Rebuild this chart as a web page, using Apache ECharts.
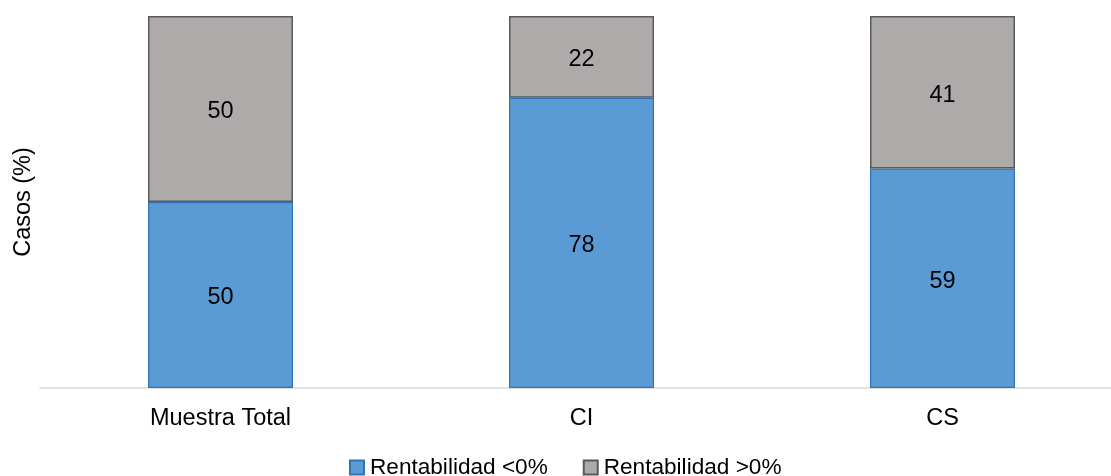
<!DOCTYPE html>
<html>
<head>
<meta charset="utf-8">
<script src="https://cdn.jsdelivr.net/npm/echarts@6/dist/echarts.min.js"></script>
<style>
  html, body { margin: 0; padding: 0; background: #ffffff; }
  #chart { width: 1111px; height: 476px; }
</style>
</head>
<body>
<div id="chart"></div>
<script>
// Categorías y porcentajes de casos por rentabilidad
const categories = ['Muestra Total', 'CI', 'CS'];
const rentNegativa = [50, 78, 59];
const rentPositiva = [50, 22, 41];
const seriesNames = ['Rentabilidad <0%', 'Rentabilidad >0%'];

const FONT = 'Arial, "Liberation Sans", sans-serif';

const chart = echarts.init(document.getElementById('chart'), null, { renderer: 'canvas' });

const labelStyle = {
  show: true,
  position: 'inside',
  offset: [0, 3],
  color: '#000000',
  fontFamily: FONT,
  fontSize: 23.5
};

chart.setOption({
  backgroundColor: '#ffffff',
  animation: false,
  // the plot runs a little past the right edge of the canvas
  grid: { left: 40, width: 1083, top: 16, bottom: 88, outerBoundsMode: 'none', containLabel: false },
  legend: {
    data: seriesNames,
    bottom: -8,
    left: 344,
    itemWidth: 14,
    itemHeight: 14,
    itemGap: 35,
    icon: 'rect',
    textStyle: { fontFamily: FONT, fontSize: 22.6, color: '#000000', padding: [0, 0, 0, 1] }
  },
  xAxis: {
    type: 'category',
    data: categories,
    axisLine: { show: true, lineStyle: { color: '#d9d9d9', width: 1.5 } },
    axisTick: { show: false },
    axisLabel: { color: '#000000', fontFamily: FONT, fontSize: 23.5, margin: 19 }
  },
  yAxis: {
    type: 'value',
    min: 0,
    max: 100,
    name: 'Casos (%)',
    nameLocation: 'middle',
    nameGap: 4,
    nameRotate: 90,
    nameTextStyle: { color: '#000000', fontFamily: FONT, fontSize: 23.5 },
    axisLine: { show: false },
    axisTick: { show: false },
    axisLabel: { show: false },
    splitLine: { show: false }
  },
  series: [
    {
      name: seriesNames[0],
      type: 'bar',
      stack: 'total',
      barWidth: 145,
      data: rentNegativa,
      itemStyle: { color: '#5b9bd5', borderColor: '#2e75b6', borderWidth: 1.2 },
      label: labelStyle
    },
    {
      name: seriesNames[1],
      type: 'bar',
      stack: 'total',
      barWidth: 145,
      data: rentPositiva,
      itemStyle: { color: '#aeaaaa', borderColor: '#595959', borderWidth: 1.5 },
      label: labelStyle
    }
  ]
});
</script>
</body>
</html>
